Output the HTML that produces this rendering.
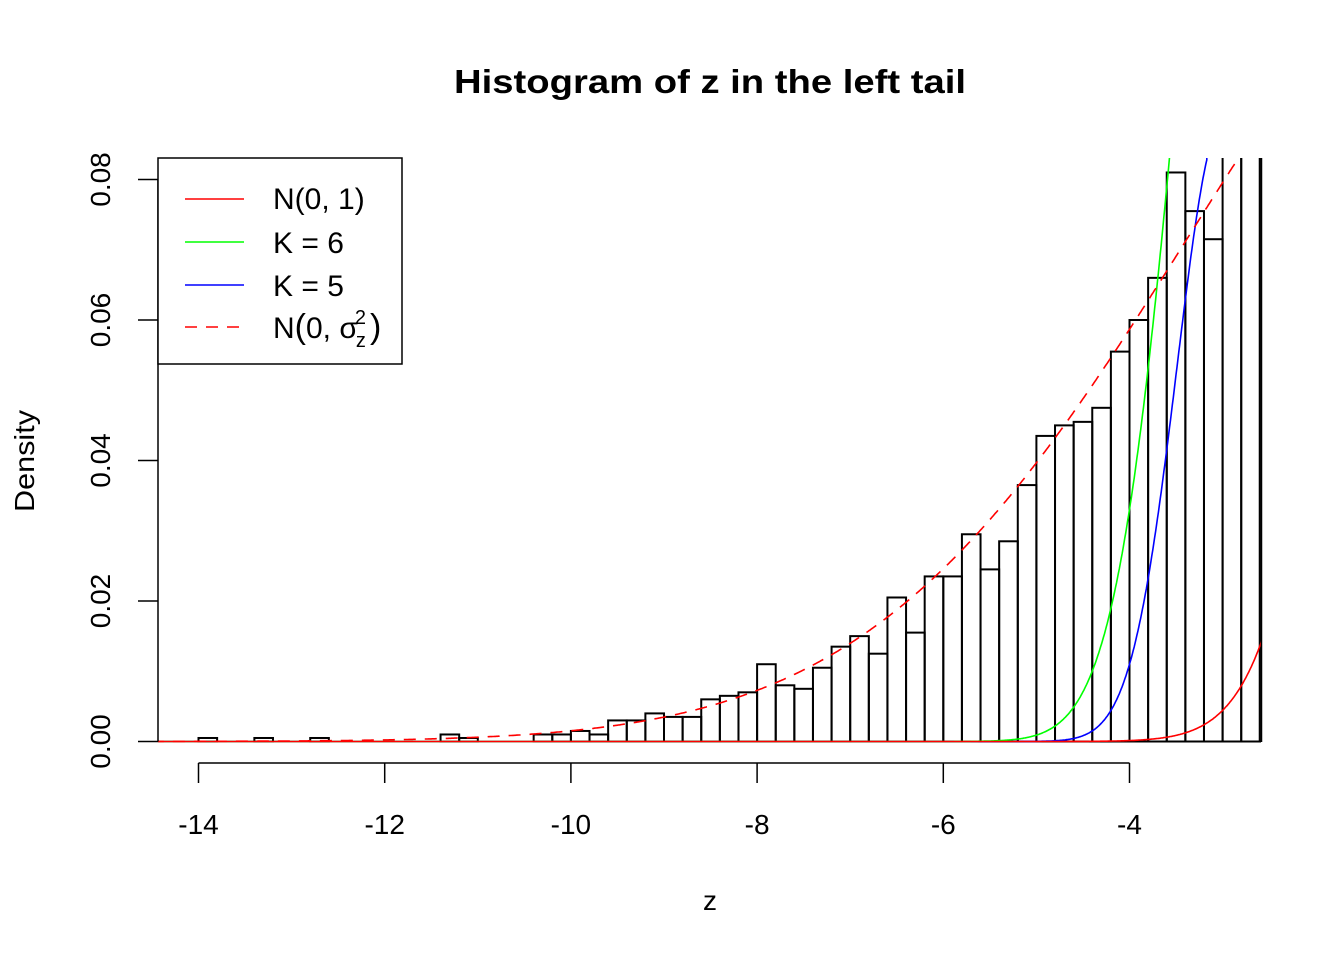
<!DOCTYPE html>
<html><head><meta charset="utf-8"><style>
body{margin:0;background:#fff}
svg{display:block;font-family:"Liberation Sans",Arial,sans-serif}
</style></head><body>
<svg id="s" width="1344" height="960" viewBox="0 0 1344 960" xmlns="http://www.w3.org/2000/svg">
<defs><clipPath id="c"><rect x="158" y="158" width="1103" height="590"/></clipPath></defs>
<text x="710" y="93" font-size="33" font-weight="bold" text-anchor="middle" textLength="512" lengthAdjust="spacingAndGlyphs">Histogram of z in the left tail</text>
<g id="bars" clip-path="url(#c)" fill="none" stroke="#000" stroke-width="2"></g>
<g id="curves" clip-path="url(#c)" fill="none" stroke-width="1.6"></g>
<line x1="1261.5" y1="158" x2="1261.5" y2="742" stroke="#000" stroke-width="1.5"/>
<g stroke="#000" stroke-width="1.5">
<line x1="198.5" y1="763" x2="1129.5" y2="763"/>
<line x1="198.5" y1="763" x2="198.5" y2="783"/>
<line x1="384.7" y1="763" x2="384.7" y2="783"/>
<line x1="570.9" y1="763" x2="570.9" y2="783"/>
<line x1="757.1" y1="763" x2="757.1" y2="783"/>
<line x1="943.3" y1="763" x2="943.3" y2="783"/>
<line x1="1129.5" y1="763" x2="1129.5" y2="783"/>
</g>
<g font-size="28" text-anchor="middle">
<text x="198.5" y="834">-14</text><text x="384.7" y="834">-12</text><text x="570.9" y="834">-10</text>
<text x="757.1" y="834">-8</text><text x="943.3" y="834">-6</text><text x="1129.5" y="834">-4</text>
<text x="710" y="910">z</text>
</g>
<g stroke="#000" stroke-width="1.5">
<line x1="158" y1="179.5" x2="158" y2="741.5"/>
<line x1="138" y1="741.5" x2="158" y2="741.5"/>
<line x1="138" y1="601" x2="158" y2="601"/>
<line x1="138" y1="460.5" x2="158" y2="460.5"/>
<line x1="138" y1="320" x2="158" y2="320"/>
<line x1="138" y1="179.5" x2="158" y2="179.5"/>
</g>
<g font-size="28" text-anchor="middle">
<text transform="translate(110,741.5) rotate(-90)">0.00</text>
<text transform="translate(110,601) rotate(-90)">0.02</text>
<text transform="translate(110,460.5) rotate(-90)">0.04</text>
<text transform="translate(110,320) rotate(-90)">0.06</text>
<text transform="translate(110,179.5) rotate(-90)">0.08</text>
<text transform="translate(34,461) rotate(-90)" textLength="102" lengthAdjust="spacingAndGlyphs">Density</text>
</g>
<rect x="158" y="158" width="244" height="206" fill="#fff" stroke="#000" stroke-width="1.5"/>
<line x1="185" y1="199" x2="244" y2="199" stroke="#f00" stroke-width="1.6"/>
<line x1="185" y1="242" x2="244" y2="242" stroke="#0f0" stroke-width="1.6"/>
<line x1="185" y1="285" x2="244" y2="285" stroke="#00f" stroke-width="1.6"/>
<line x1="185" y1="327" x2="244" y2="327" stroke="#f00" stroke-width="1.6" stroke-dasharray="12,9"/>
<g font-size="30">
<text x="273" y="209">N(0, 1)</text>
<text x="273" y="253">K = 6</text>
<text x="273" y="296">K = 5</text>
<text x="273" y="338">N<tspan font-size="34">(</tspan>0, σ<tspan font-size="20" dx="-2" dy="9">z</tspan><tspan font-size="20" dx="-11" dy="-23">2</tspan><tspan font-size="34" dx="4" dy="14">)</tspan></text>
</g>
</svg>
<script>
var X=function(v){return 198.5+(v+14)*93.1},Y=function(d){return 741.5-d*7025};
var h={"-14":0.0005,"-13.4":0.0005,"-12.8":0.0005,"-11.4":0.001,"-11.2":0.0005,"-10.4":0.001,"-10.2":0.001,"-10":0.0015,"-9.8":0.001,"-9.6":0.003,"-9.4":0.003,"-9.2":0.004,"-9":0.0035,"-8.8":0.0035,"-8.6":0.006,"-8.4":0.0065,"-8.2":0.007,"-8":0.011,"-7.8":0.008,"-7.6":0.0075,"-7.4":0.0105,"-7.2":0.0135,"-7":0.015,"-6.8":0.0125,"-6.6":0.0205,"-6.4":0.0155,"-6.2":0.0235,"-6":0.0235,"-5.8":0.0295,"-5.6":0.0245,"-5.4":0.0285,"-5.2":0.0365,"-5":0.0435,"-4.8":0.045,"-4.6":0.0455,"-4.4":0.0475,"-4.2":0.0555,"-4":0.06,"-3.8":0.066,"-3.6":0.081,"-3.4":0.0755,"-3.2":0.0715,"-3":0.2,"-2.8":0.2,"-2.6":0.2};
var g=document.getElementById('bars'),s='';
for(var i=0;i<60;i++){var a=Math.round((-14.4+i*0.2)*10)/10;var d=h[String(a)]||0;var x=X(a);
s+='<rect x="'+x+'" y="'+Y(d)+'" width="18.62" height="'+(d*7025)+'"/>';}
g.innerHTML=s;
function path(f,col,dash){var p='';for(var x=-14.5;x<=-2.5;x+=0.01){var y=Y(Math.min(f(x),0.2));p+=(p?'L':'M')+X(x).toFixed(1)+','+y.toFixed(1);}
return '<path d="'+p+'" stroke="'+col+'"'+(dash?' stroke-dasharray="12,9"':'')+'/>';}
var c='';
c+=path(function(x){var u=x+4;return u>0.83?0.2:Math.exp(-4.51+4.15*u-2.07*u*u);},'#00f');
c+=path(function(x){var u=x+4;return u>0.5?0.2:Math.exp(-3.41+2.58*u-1.01*u*u);},'#0f0');
c+=path(function(x){return Math.exp(-x*x/2)/2.5066;},'#f00');
c+=path(function(x){return Math.exp(-x*x/23)/8.5;},'#f00',1);
document.getElementById('curves').innerHTML=c;
</script>
</body></html>
